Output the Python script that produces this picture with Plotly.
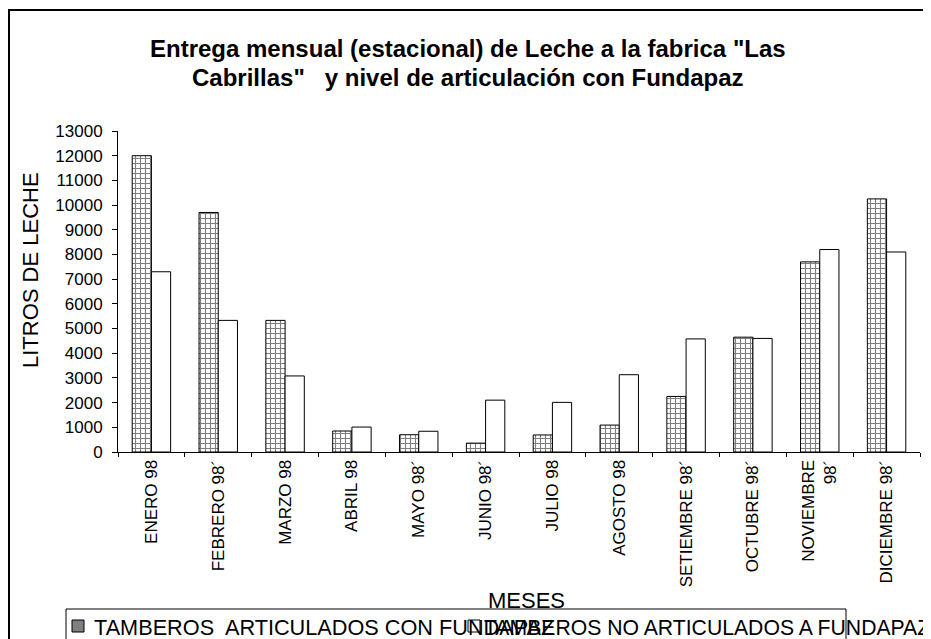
import plotly.graph_objects as go

# ---------------- data ----------------
months = ["ENERO 98", "FEBRERO 98´", "MARZO 98", "ABRIL 98", "MAYO 98´", "JUNIO 98´",
          "JULIO 98", "AGOSTO 98", "SETIEMBRE 98´", "OCTUBRE 98´", "NOVIEMBRE<br>98´",
          "DICIEMBRE 98´"]
articulados = [12000, 9700, 5330, 850, 700, 360, 690, 1090, 2250, 4650, 7700, 10250]
no_articulados = [7300, 5330, 3080, 1010, 840, 2100, 2010, 3130, 4580, 4600, 8200, 8100]
series_names = ["TAMBEROS\u00a0 ARTICULADOS CON FUNDAPAZ", "TAMBEROS NO ARTICULADOS A FUNDAPAZ"]
y_ticks = list(range(0, 13001, 1000))
title_lines = ["Entrega mensual (estacional) de Leche a la fabrica \"Las",
               "Cabrillas\"\u00a0  y nivel de articulación con Fundapaz"]
x_title = "MESES"
y_title = "LITROS DE LECHE"

# ---------------- layout geometry (window pixels) ----------------
WIN_W, WIN_H = 931, 639
OFF = 8                      # page body margin of the html page
FW, FH = WIN_W - OFF, WIN_H - OFF
L, R, T, B = 118, 920, 131, 452   # plot area in window pixels
FONT = "Liberation Sans, Arial, sans-serif"


def px(x):
    return (x - L) / (R - L)


def py(y):
    return (B - y) / (B - T)


fig = go.Figure()
fig.add_trace(go.Bar(
    x=months, y=articulados, name=series_names[0], showlegend=False,
    marker=dict(color="white", line=dict(color="black", width=1),
                pattern=dict(shape="+", size=5, solidity=0.4,
                             fgcolor="black", bgcolor="white")),
))
fig.add_trace(go.Bar(
    x=months, y=no_articulados, name=series_names[1], showlegend=False,
    marker=dict(color="white", line=dict(color="black", width=1)),
))


def note(text, x, y, size, xanchor="center", angle=0):
    return dict(text=text, x=px(x), y=py(y), xref="paper", yref="paper",
                xanchor=xanchor, yanchor="middle", textangle=angle, showarrow=False,
                font=dict(family=FONT, size=size, color="black"))


annotations = [
    note("<b>" + title_lines[0] + "</b>", 468, 48, 24),
    note("<b>" + title_lines[1] + "</b>", 468, 77, 24),
    note(y_title, 30, 270, 22, angle=-90),
    note(x_title, 526, 600, 22),
    note(series_names[0], 92, 627, 21.7, xanchor="left"),
    note(series_names[1], 482, 627, 21.2, xanchor="left"),
]

shapes = [
    # outer chart frame
    dict(type="rect", xref="paper", yref="paper", x0=px(9), x1=px(928), y0=py(10), y1=py(700),
         line=dict(color="black", width=2), fillcolor="rgba(0,0,0,0)", layer="above"),
    # legend box
    dict(type="rect", xref="paper", yref="paper", x0=px(66), x1=px(846), y0=py(609), y1=py(660),
         line=dict(color="black", width=1), fillcolor="rgba(0,0,0,0)"),
    # legend swatches
    dict(type="rect", xref="paper", yref="paper", x0=px(72), x1=px(84), y0=py(620), y1=py(632),
         line=dict(color="black", width=1), fillcolor="#808080"),
    dict(type="rect", xref="paper", yref="paper", x0=px(468), x1=px(480), y0=py(620), y1=py(632),
         line=dict(color="black", width=1), fillcolor="white"),
]

fig.update_layout(
    width=FW, height=FH,
    margin=dict(l=L - OFF, r=FW - (R - OFF), t=T - OFF, b=FH - (B - OFF), autoexpand=False),
    paper_bgcolor="white", plot_bgcolor="white",
    barmode="group", bargap=0.425, bargroupgap=0,
    font=dict(family=FONT, color="black"),
    annotations=annotations, shapes=shapes,
    showlegend=False,
)
fig.update_xaxes(
    type="category", tickson="boundaries", ticks="outside", ticklen=4,
    tickcolor="black", showline=True, linecolor="black", linewidth=1,
    showgrid=False, tickangle=-90, tickfont=dict(family=FONT, size=17, color="black"),
)
fig.update_yaxes(
    range=[0, 13000], tickvals=y_ticks, tickformat="d", ticks="outside", ticklen=5,
    tickcolor="black", showline=True, linecolor="black", linewidth=1,
    showgrid=False, zeroline=False, ticklabelstandoff=6,
    tickfont=dict(family=FONT, size=17, color="black"),
)

fig.write_html("out.html")
